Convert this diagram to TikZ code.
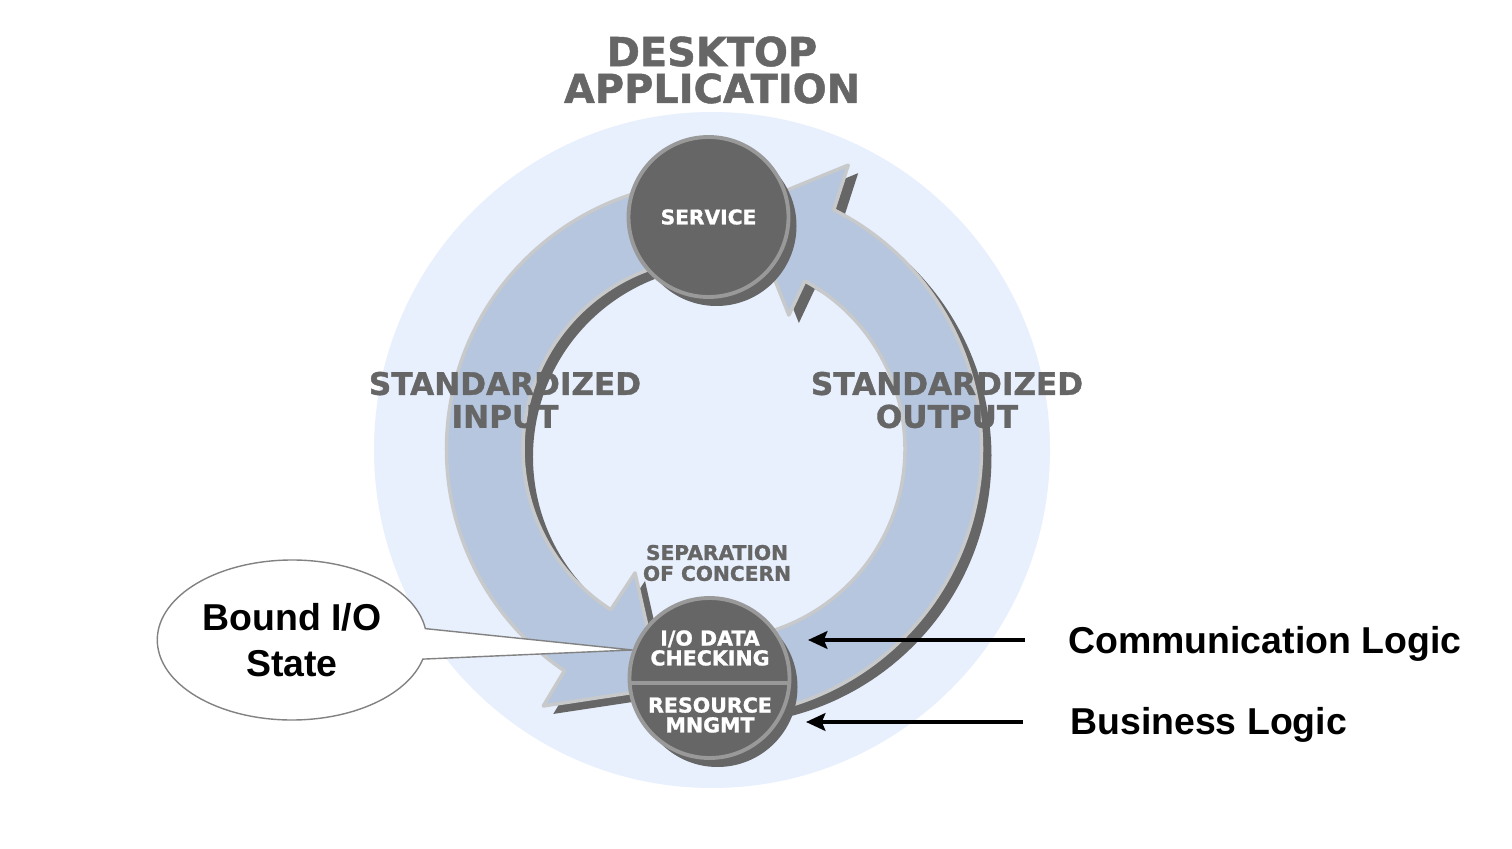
\documentclass[tikz,border=0pt]{standalone}
\usepackage{fontspec}
\usepackage{tikz}
\usetikzlibrary{arrows.meta, positioning, shapes.geometric, shapes.callouts, shadows}
\newfontfamily\capsfont[FakeBold=1.2]{DejaVu Sans Bold}
\newfontfamily\notefont{Liberation Sans}
\definecolor{paleblue}{RGB}{232, 240, 253}
\definecolor{bandblue}{RGB}{181, 198, 222}
\definecolor{bandedge}{RGB}{200, 201, 203}
\definecolor{shadegray}{RGB}{102, 102, 102}
\definecolor{rimgray}{RGB}{153, 153, 153}
\definecolor{calloutgray}{RGB}{130, 130, 130}

\tikzset{
    band/.style={fill=bandblue, draw=bandedge, line width=2pt, line join=round,
        drop shadow={shadow xshift=0.2cm, shadow yshift=-0.16cm, fill=shadegray, opacity=1}},
    hub/.style={circle, fill=shadegray, draw=rimgray, line width=2.2pt, minimum size=3.2cm, inner sep=0pt,
        drop shadow={shadow xshift=0.16cm, shadow yshift=-0.18cm, fill=shadegray, opacity=1}},
    caps/.style={text=shadegray, align=center},
    hubtext/.style={text=white, align=center, font=\capsfont\fontsize{11.7}{11.3}\selectfont},
    note/.style={align=center, font=\notefont\bfseries\fontsize{21.3}{26}\selectfont},
    pointer/.style={-{Stealth[length=11pt, width=10pt, inset=2pt]}, line width=2.3pt}
}

\begin{document}
\begin{tikzpicture}
    \fill[white] (0,0) rectangle (30.24,16.96);
    \fill[paleblue] (14.24,7.96) circle (6.76);

    % the two curved bands
    \begin{scope}[shift={(14.28,7.98)}]
        \path[band] (85:5.35) arc[start angle=85, end angle=236, radius=5.35]
            -- (236.4:6.17) -- (257.5:4.9) -- (237.5:2.94) -- (237.3:3.82)
            arc[start angle=237.3, end angle=85, radius=3.82] -- cycle;
        \path[band] (265:5.35) arc[start angle=265, end angle=423.4, radius=5.35]
            -- (424.7:6.28) -- (442.5:4.88) -- (420.8:3.07) -- (421.6:3.82)
            arc[start angle=421.6, end angle=265, radius=3.82] -- cycle;
    \end{scope}

    \node[hub, hubtext, font=\capsfont\fontsize{11.5}{12}\selectfont] (service) at (14.17,12.62) {SERVICE};
    \node[hub] (iocheck) at (14.19,3.40) {};
    \draw[rimgray, line width=2.2pt] ([yshift=-0.1cm]iocheck.west) -- ([yshift=-0.1cm]iocheck.east);
    \node[hubtext] (checking) at (14.20,4.00) {I/O DATA\\CHECKING};
    \node[hubtext] (resource) at (14.20,2.66) {RESOURCE\\MNGMT};

    \node[caps, font=\capsfont\fontsize{22.7}{21}\selectfont] (title) at (14.24,15.56) {DESKTOP\\APPLICATION};
    \node[caps, font=\capsfont\fontsize{17.7}{18.7}\selectfont] (input) at (10.10,8.96) {STANDARDIZED\\INPUT};
    \node[caps, font=\capsfont\fontsize{17.7}{18.7}\selectfont] (output) at (18.94,8.96) {STANDARDIZED\\OUTPUT};
    \node[caps, font=\capsfont\fontsize{11.5}{11.9}\selectfont] (concern) at (14.34,5.70) {SEPARATION\\OF CONCERN};

    % callout and side notes
    \node[ellipse callout, draw=calloutgray, fill=white, line width=0.8pt, minimum width=5.32cm, minimum height=3.2cm,
        callout pointer arc=22, callout absolute pointer={(iocheck.160)}, note] (bound) at (5.84,4.16) {Bound I/O\\State};

    \node[note, anchor=west, inner sep=0pt] (comm) at (21.36,4.08) {Communication Logic};
    \node[note, anchor=west, inner sep=0pt] (business) at (21.40,2.46) {Business Logic};
    \coordinate (commtip) at (16.16,4.16);
    \coordinate (businesstip) at (16.12,2.52);
    \draw[pointer, shorten <=0.86cm] (comm.west |- commtip) -- (commtip);
    \draw[pointer, shorten <=0.94cm] (business.west |- businesstip) -- (businesstip);
\end{tikzpicture}
\end{document}
